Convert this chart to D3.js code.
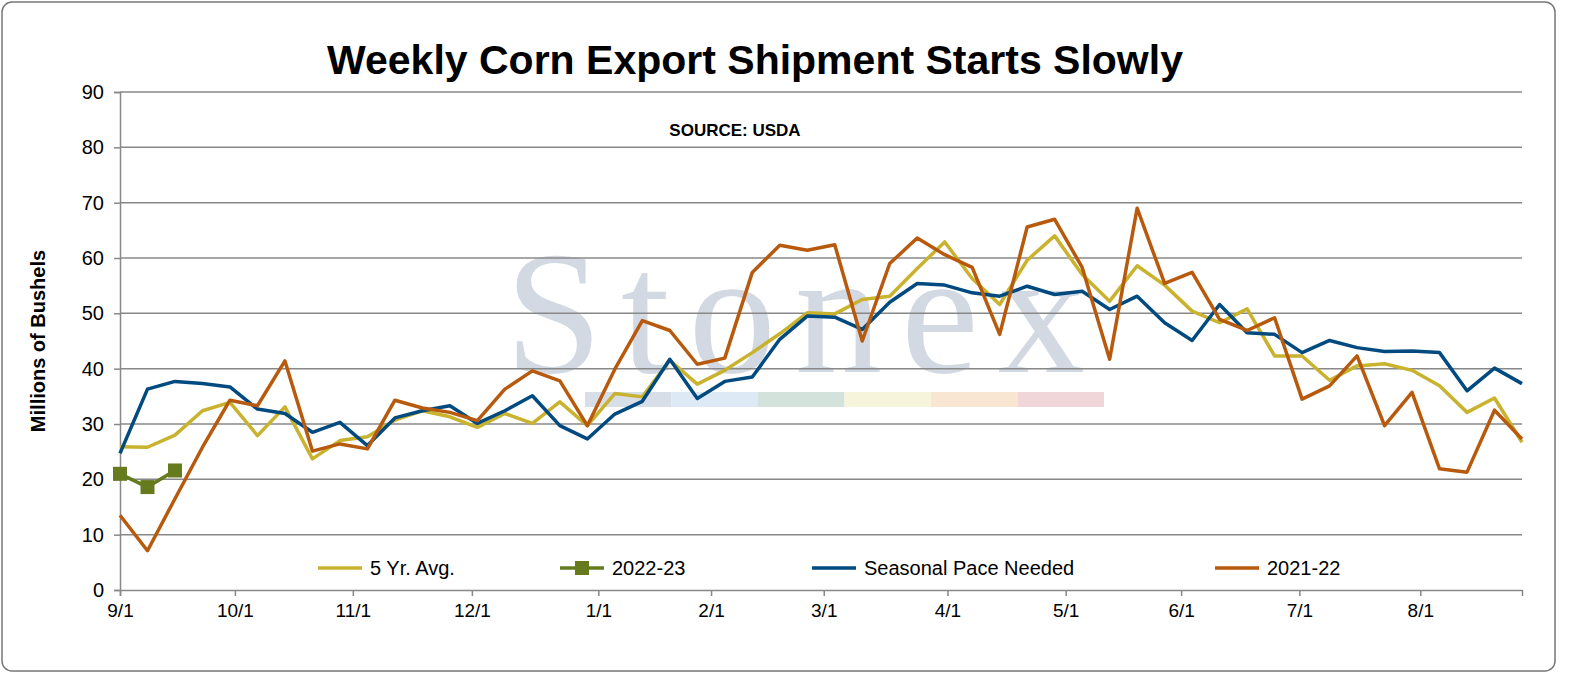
<!DOCTYPE html>
<html lang="en">
<head>
  <meta charset="UTF-8">
  <title>Weekly Corn Export Shipment Starts Slowly</title>
  <script src="https://d3js.org/d3.v7.min.js"></script>
  <style>
    body { margin: 0; background: white; font-family: Arial, "Liberation Sans", sans-serif; }
  </style>
</head>
<body>
  <div id="chart"></div>
  <script>
    // weekly values, millions of bushels (week 0 = 9/1)
    var fiveYrAvg = [25.9, 25.8, 28, 32.4, 33.9, 27.9, 33.1, 23.7, 27, 27.7, 30.7, 32.4, 31.3, 29.4, 31.9, 30.1, 34, 29.7,
      35.5, 34.9, 41.5, 37.2, 39.7, 42.9, 46.3, 50.1, 49.9, 52.5, 53.1, 58.1, 62.9, 56.3, 51.6, 59.6, 64, 57,
      52.2, 58.6, 55.1, 50.4, 48.3, 50.8, 42.3, 42.3, 37.9, 40.5, 40.9, 39.7, 36.9, 32.1, 34.7, 26.7];
    var seasonalPace = [24.7, 36.3, 37.7, 37.3, 36.7, 32.7, 31.9, 28.5, 30.3, 26.1, 31.1, 32.4, 33.3, 30.1, 32.4, 35.1, 29.7, 27.3,
      31.8, 34.1, 41.7, 34.6, 37.7, 38.5, 45.3, 49.5, 49.3, 47.1, 52, 55.4, 55.1, 53.7, 53.1, 54.9, 53.4, 54,
      50.7, 53.1, 48.3, 45.1, 51.6, 46.5, 46.2, 42.9, 45.1, 43.8, 43.1, 43.2, 42.9, 36, 40.1, 37.3];
    var prevYear = [13.5, 7.1, 16.5, 25.8, 34.3, 33.3, 41.4, 25.1, 26.4, 25.5, 34.3, 32.9, 32.1, 30.6, 36.3, 39.6, 37.8, 29.7,
      39.9, 48.7, 46.9, 40.8, 41.9, 57.4, 62.3, 61.4, 62.4, 45, 59, 63.6, 60.6, 58.3, 46.2, 65.6, 67, 58.3,
      41.7, 69, 55.4, 57.4, 48.9, 46.9, 49.2, 34.5, 36.9, 42.3, 29.7, 35.7, 21.9, 21.3, 32.5, 27.3];
    var currentYear = [21, 18.6, 21.6];

    var yTicks = [0, 10, 20, 30, 40, 50, 60, 70, 80, 90];
    var xTickLabels = ["9/1", "10/1", "11/1", "12/1", "1/1", "2/1", "3/1", "4/1", "5/1", "6/1", "7/1", "8/1"];
    var xTickWeeks = [0, 4.18, 8.47, 12.8, 17.4, 21.5, 25.6, 30.1, 34.4, 38.6, 42.9, 47.3];

    var width = 1577, height = 677;
    var plotLeft = 120, plotRight = 1522, plotTop = 92, plotBottom = 590;

    var svg = d3.select("#chart").append("svg")
      .attr("width", width).attr("height", height);

    svg.append("rect")
      .attr("x", 2).attr("y", 2).attr("width", width - 24).attr("height", height - 8)
      .attr("rx", 10).attr("fill", "white").attr("stroke", "#777").attr("stroke-width", 1.5);

    var x = d3.scaleLinear().domain([0, 51]).range([plotLeft, plotRight]);
    var y = d3.scaleLinear().domain([0, 90]).range([plotBottom, plotTop]);

    // watermark
    svg.append("text")
      .attr("x", 795).attr("y", 372)
      .attr("text-anchor", "middle")
      .attr("textLength", 580)
      .style("font-family", "Liberation Serif, serif")
      .style("font-size", "175px")
      .attr("fill", "#d2d9e2")
      .text("Stonex");
    var bandColors = ["#d8dee8", "#dde9f4", "#d3e3dc", "#f7f4dc", "#f9e6d2", "#f1d6d9"];
    bandColors.forEach(function (c, i) {
      svg.append("rect")
        .attr("x", 585 + i * 86.5).attr("y", 392).attr("width", 86.5).attr("height", 15)
        .attr("fill", c);
    });

    // gridlines
    svg.append("g").selectAll("line").data(yTicks.slice(1)).join("line")
      .attr("x1", plotLeft).attr("x2", plotRight)
      .attr("y1", d => y(d)).attr("y2", d => y(d))
      .attr("stroke", "#888").attr("stroke-width", 1.5);

    // y axis
    var yAxis = svg.append("g")
      .attr("transform", "translate(" + plotLeft + ",0)")
      .call(d3.axisLeft(y).tickValues(yTicks).tickSize(6).tickPadding(10));
    yAxis.selectAll("text").style("font-size", "20px").style("font-family", "Arial, Liberation Sans, sans-serif").attr("fill", "#000");
    yAxis.selectAll("line, path").attr("stroke", "#888").attr("stroke-width", 1.5);

    // x axis
    var xAxis = svg.append("g")
      .attr("transform", "translate(0," + plotBottom + ")")
      .call(d3.axisBottom(x).tickValues(xTickWeeks).tickFormat((d, i) => xTickLabels[i]).tickSize(6).tickPadding(8));
    xAxis.selectAll("text").style("font-size", "19px").style("font-family", "Arial, Liberation Sans, sans-serif").attr("fill", "#000");
    xAxis.selectAll("line, path").attr("stroke", "#888").attr("stroke-width", 1.5);

    var line = d3.line().x((d, i) => x(i)).y(d => y(d));

    function drawSeries(data, color) {
      svg.append("path").datum(data)
        .attr("d", line)
        .attr("fill", "none").attr("stroke", color).attr("stroke-width", 3.5)
        .attr("stroke-linejoin", "round");
    }
    drawSeries(fiveYrAvg, "#c8b22e");
    drawSeries(seasonalPace, "#004a80");
    drawSeries(prevYear, "#b85a0d");
    drawSeries(currentYear, "#667a1e");
    svg.append("g").selectAll("rect").data(currentYear).join("rect")
      .attr("x", (d, i) => x(i) - 7).attr("y", d => y(d) - 7)
      .attr("width", 14).attr("height", 14).attr("fill", "#667a1e");

    // title and source
    svg.append("text")
      .attr("x", 755).attr("y", 74).attr("text-anchor", "middle")
      .style("font-size", "41px").style("font-weight", "bold")
      .text("Weekly Corn Export Shipment Starts Slowly");
    svg.append("text")
      .attr("x", 735).attr("y", 136).attr("text-anchor", "middle")
      .style("font-size", "17px").style("font-weight", "bold")
      .text("SOURCE: USDA");

    svg.append("text")
      .attr("transform", "translate(45," + ((plotTop + plotBottom) / 2) + ") rotate(-90)")
      .attr("text-anchor", "middle")
      .style("font-size", "20px").style("font-weight", "bold")
      .text("Millions of Bushels");

    // legend
    var legend = [
      { name: "5 Yr. Avg.", color: "#c8b22e", x: 318, marker: false },
      { name: "2022-23", color: "#667a1e", x: 560, marker: true },
      { name: "Seasonal Pace Needed", color: "#004a80", x: 812, marker: false },
      { name: "2021-22", color: "#b85a0d", x: 1215, marker: false }
    ];
    legend.forEach(function (l) {
      svg.append("line")
        .attr("x1", l.x).attr("x2", l.x + 44).attr("y1", 568).attr("y2", 568)
        .attr("stroke", l.color).attr("stroke-width", 3.5);
      if (l.marker) {
        svg.append("rect").attr("x", l.x + 15).attr("y", 561).attr("width", 14).attr("height", 14).attr("fill", l.color);
      }
      svg.append("text")
        .attr("x", l.x + 52).attr("y", 575)
        .style("font-size", "20px")
        .text(l.name);
    });
  </script>
</body>
</html>
